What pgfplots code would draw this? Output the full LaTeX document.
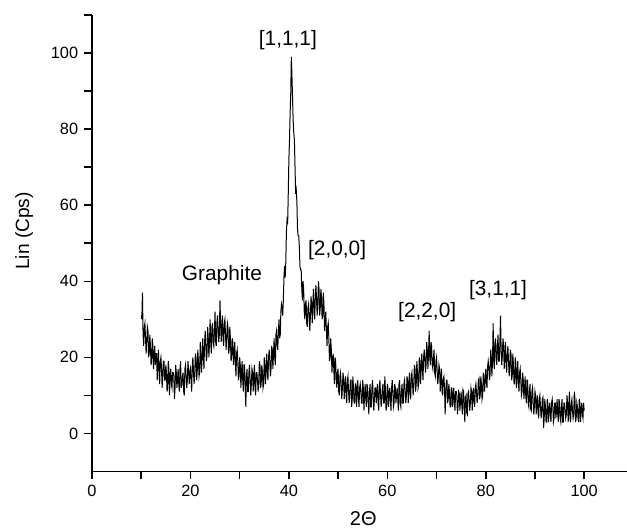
\documentclass[border=0pt]{standalone}
\usepackage{fontspec}
\setmainfont{Liberation Sans}
\usepackage{pgfplots}
\pgfplotsset{compat=1.18}

\begin{document}
\begin{tikzpicture}
\begin{axis}[
    name=ax,
    scale only axis,
    width=321pt, height=273.9pt,
    xmin=0, xmax=108.7, ymin=-10, ymax=110,
    axis lines=left,
    axis line style={-, line width=1pt},
    tick align=outside,
    xtick={0,20,...,100}, minor xtick={10,30,...,90},
    ytick={0,20,...,100}, minor ytick={10,30,...,110},
    major tick length=4.8pt, minor tick length=4.8pt,
    every tick/.style={black, line width=0.9pt},
    tick label style={font=\fontsize{9.8}{11}\selectfont},
    /pgf/number format/assume math mode=true,
    xlabel={2Θ},
    ylabel={Lin (Cps)},
    every axis x label/.style={at={(axis description cs:0.507,-0.1025)}, anchor=center, font=\fontsize{12}{14}\selectfont},
    every axis y label/.style={at={(axis description cs:-0.127,0.527)}, anchor=center, rotate=90, font=\fontsize{11.5}{14}\selectfont},
    clip=false,
]
\addplot[black, line width=0.6pt] coordinates {
(10.000,31) (10.125,30) (10.250,37) (10.375,26) (10.500,23) (10.625,28) (10.750,29) (10.875,25)
(11.000,21) (11.125,24) (11.250,28) (11.375,27) (11.500,20) (11.625,21) (11.750,26) (11.875,23)
(12.000,18) (12.125,19) (12.250,25) (12.375,23) (12.500,17) (12.625,20) (12.750,23) (12.875,18)
(13.000,21) (13.125,21) (13.250,14) (13.375,19) (13.500,22) (13.625,16) (13.750,13) (13.875,19)
(14.000,20) (14.125,17) (14.250,12) (14.375,15) (14.500,19) (14.625,19) (14.750,14) (14.875,14)
(15.000,18) (15.125,16) (15.250,11) (15.375,12) (15.500,19) (15.625,17) (15.750,10) (15.875,15)
(16.000,17) (16.125,13) (16.250,12) (16.375,16) (16.500,16) (16.625,15) (16.750,9) (16.875,12)
(17.000,18) (17.125,16) (17.250,12) (17.375,14) (17.500,17) (17.625,13) (17.750,11) (17.875,17)
(18.000,19) (18.125,12) (18.250,13) (18.375,15) (18.500,16) (18.625,11) (18.750,10) (18.875,17)
(19.000,18) (19.125,15) (19.250,12) (19.375,14) (19.500,19) (19.625,17) (19.750,13) (19.875,16)
(20.000,17) (20.125,14) (20.250,11) (20.375,18) (20.500,20) (20.625,16) (20.750,13) (20.875,16)
(21.000,21) (21.125,20) (21.250,14) (21.375,16) (21.500,22) (21.625,19) (21.750,15) (21.875,16)
(22.000,24) (22.125,21) (22.250,16) (22.375,20) (22.500,25) (22.625,20) (22.750,17) (22.875,24)
(23.000,27) (23.125,23) (23.250,19) (23.375,21) (23.500,28) (23.625,25) (23.750,20) (23.875,24)
(24.000,30) (24.125,24) (24.250,21) (24.375,28) (24.500,29) (24.625,24) (24.750,23) (24.875,27)
(25.000,32) (25.125,24) (25.250,23) (25.375,29) (25.500,31) (25.625,27) (25.750,24) (25.875,26)
(26.000,35) (26.125,29) (26.250,24) (26.375,28) (26.500,31) (26.625,25) (26.750,23) (26.875,29)
(27.000,30) (27.125,26) (27.250,22) (27.375,25) (27.500,29) (27.625,28) (27.750,21) (27.875,22)
(28.000,28) (28.125,25) (28.250,19) (28.375,20) (28.500,25) (28.625,24) (28.750,18) (28.875,20)
(29.000,24) (29.125,19) (29.250,15) (29.375,21) (29.500,22) (29.625,19) (29.750,14) (29.875,15)
(30.000,20) (30.125,18) (30.250,12) (30.375,16) (30.500,19) (30.625,14) (30.750,11) (30.875,18)
(31.000,18) (31.125,12) (31.250,7) (31.375,15) (31.500,17) (31.625,11) (31.750,11) (31.875,16)
(32.000,18) (32.125,14) (32.250,10) (32.375,13) (32.500,17) (32.625,16) (32.750,11) (32.875,15)
(33.000,18) (33.125,12) (33.250,10) (33.375,16) (33.500,16) (33.625,14) (33.750,11) (33.875,13)
(34.000,19) (34.125,18) (34.250,12) (34.375,13) (34.500,18) (34.625,16) (34.750,12) (34.875,13)
(35.000,20) (35.125,18) (35.250,13) (35.375,17) (35.500,21) (35.625,16) (35.750,14) (35.875,20)
(36.000,22) (36.125,19) (36.250,15) (36.375,17) (36.500,23) (36.625,22) (36.750,17) (36.875,21)
(37.000,25) (37.125,20) (37.250,18) (37.375,26) (37.500,27) (37.625,23) (37.750,22) (37.875,27)
(38.000,30) (38.125,25) (38.250,26) (38.375,32) (38.500,34) (38.625,33) (38.750,31) (38.875,35)
(39.000,41) (39.125,44) (39.250,41) (39.375,45) (39.500,53) (39.625,56) (39.750,55) (39.875,63)
(40.000,72) (40.125,77) (40.250,84) (40.375,89) (40.500,99) (40.625,94) (40.750,88) (40.875,82)
(41.000,79) (41.125,77) (41.250,70) (41.375,63) (41.500,64) (41.625,61) (41.750,54) (41.875,52)
(42.000,52) (42.125,49) (42.250,44) (42.375,43) (42.500,43) (42.625,38) (42.750,35) (42.875,40)
(43.000,38) (43.125,32) (43.250,30) (43.375,34) (43.500,35) (43.625,29) (43.750,28) (43.875,33)
(44.000,34) (44.125,31) (44.250,27) (44.375,31) (44.500,36) (44.625,34) (44.750,29) (44.875,34)
(45.000,38) (45.125,32) (45.250,30) (45.375,36) (45.500,39) (45.625,35) (45.750,31) (45.875,34)
(46.000,40) (46.125,38) (46.250,31) (46.375,33) (46.500,38) (46.625,36) (46.750,30) (46.875,31)
(47.000,37) (47.125,34) (47.250,27) (47.375,30) (47.500,32) (47.625,27) (47.750,23) (47.875,28)
(48.000,29) (48.125,25) (48.250,19) (48.375,20) (48.500,25) (48.625,22) (48.750,16) (48.875,19)
(49.000,21) (49.125,17) (49.250,13) (49.375,20) (49.500,19) (49.625,14) (49.750,12) (49.875,16)
(50.000,17) (50.125,11) (50.250,10) (50.375,15) (50.500,16) (50.625,13) (50.750,9) (50.875,12)
(51.000,16) (51.125,14) (51.250,9) (51.375,13) (51.500,15) (51.625,10) (51.750,8) (51.875,14)
(52.000,15) (52.125,11) (52.250,8) (52.375,10) (52.500,14) (52.625,14) (52.750,7) (52.875,9)
(53.000,15) (53.125,12) (53.250,8) (53.375,8) (53.500,13) (53.625,13) (53.750,7) (53.875,11)
(54.000,14) (54.125,9.5) (54.250,7) (54.375,12) (54.500,13) (54.625,11) (54.750,8) (54.875,8)
(55.000,14) (55.125,12) (55.250,6) (55.375,10) (55.500,13) (55.625,9) (55.750,7) (55.875,13)
(56.000,12) (56.125,8) (56.250,5) (56.375,11) (56.500,13) (56.625,7) (56.750,7) (56.875,12)
(57.000,14) (57.125,10) (57.250,6) (57.375,9) (57.500,12) (57.625,12) (57.750,8) (57.875,11)
(58.000,13) (58.125,8) (58.250,6) (58.375,12) (58.500,14) (58.625,10) (58.750,7) (58.875,9)
(59.000,12) (59.125,13) (59.250,8) (59.375,8) (59.500,15) (59.625,11) (59.750,6) (59.875,7)
(60.000,13) (60.125,12) (60.250,7) (60.375,10) (60.500,12) (60.625,9) (60.750,6) (60.875,12)
(61.000,14) (61.125,11) (61.250,7) (61.375,8) (61.500,13) (61.625,12) (61.750,8) (61.875,10)
(62.000,12) (62.125,9) (62.250,6) (62.375,13) (62.500,14) (62.625,8) (62.750,7) (62.875,11)
(63.000,13) (63.125,8) (63.250,8) (63.375,13) (63.500,14) (63.625,11) (63.750,8) (63.875,10)
(64.000,15) (64.125,14) (64.250,8) (64.375,13) (64.500,16) (64.625,10) (64.750,9) (64.875,15)
(65.000,16) (65.125,13) (65.250,10) (65.375,13) (65.500,18) (65.625,17) (65.750,11) (65.875,13)
(66.000,19) (66.125,16) (66.250,12) (66.375,13) (66.500,20) (66.625,19) (66.750,13) (66.875,17)
(67.000,21) (67.125,17) (67.250,14) (67.375,20) (67.500,22) (67.625,20) (67.750,16) (67.875,18)
(68.000,24) (68.125,22) (68.250,17) (68.375,21) (68.500,27) (68.625,20) (68.750,18) (68.875,24)
(69.000,23) (69.125,18) (69.250,17) (69.375,20) (69.500,22) (69.625,16) (69.750,15) (69.875,19)
(70.000,20) (70.125,16.5) (70.250,13) (70.375,15) (70.500,18) (70.625,17) (70.750,11) (70.875,15)
(71.000,17) (71.125,11) (71.250,10) (71.375,14.5) (71.500,15) (71.625,12) (71.750,5) (71.875,10)
(72.000,14) (72.125,14) (72.250,8) (72.375,9) (72.500,13) (72.625,11) (72.750,7) (72.875,7)
(73.000,12) (73.125,12) (73.250,7) (73.375,9.5) (73.500,12) (73.625,8) (73.750,6) (73.875,11)
(74.000,11) (74.125,10) (74.250,5) (74.375,7) (74.500,11) (74.625,10.5) (74.750,6) (74.875,8.5)
(75.000,11) (75.125,7.5) (75.250,5) (75.375,11.5) (75.500,11) (75.625,6.5) (75.750,3) (75.875,9.5)
(76.000,10) (76.125,5.5) (76.250,5) (76.375,10.5) (76.500,11) (76.625,8.5) (76.750,6) (76.875,8)
(77.000,12) (77.125,11) (77.250,6) (77.375,10.5) (77.500,12) (77.625,8) (77.750,7) (77.875,12)
(78.000,13) (78.125,10.5) (78.250,8) (78.375,10) (78.500,14) (78.625,14.5) (78.750,9) (78.875,10)
(79.000,15) (79.125,13) (79.250,9) (79.375,10) (79.500,16) (79.625,15) (79.750,11) (79.875,13.7)
(80.000,17) (80.125,13.5) (80.250,12) (80.375,17.5) (80.500,19) (80.625,17.5) (80.750,14) (80.875,15.5)
(81.000,22) (81.125,20) (81.250,15) (81.375,19) (81.500,29) (81.625,19) (81.750,17) (81.875,24)
(82.000,25) (82.125,20) (82.250,18) (82.375,23) (82.500,26) (82.625,19) (82.750,19) (82.875,24)
(83.000,31) (83.125,22) (83.250,18) (83.375,20.5) (83.500,25) (83.625,23) (83.750,17) (83.875,21)
(84.000,24) (84.125,18) (84.250,16) (84.375,21) (84.500,23) (84.625,19) (84.750,15) (84.875,17)
(85.000,22) (85.125,21) (85.250,14) (85.375,15) (85.500,21) (85.625,18) (85.750,13) (85.875,13)
(86.000,20) (86.125,18) (86.250,12) (86.375,15) (86.500,19) (86.625,13.5) (86.750,11) (86.875,16)
(87.000,17) (87.125,14) (87.250,10) (87.375,11) (87.500,16) (87.625,14) (87.750,9) (87.875,11.7)
(88.000,15) (88.125,10) (88.250,8) (88.375,14) (88.500,14) (88.625,8) (88.750,7) (88.875,11)
(89.000,13) (89.125,6.5) (89.250,6) (89.375,11) (89.500,12) (89.625,8.5) (89.750,5) (89.875,7)
(90.000,11) (90.125,10) (90.250,5) (90.375,8.5) (90.500,10) (90.625,5.5) (90.750,4) (90.875,9)
(91.000,10) (91.125,7) (91.250,4) (91.375,5.5) (91.500,9) (91.625,9.5) (91.750,1.5) (91.875,4)
(92.000,9) (92.125,7) (92.250,3) (92.375,3) (92.500,9) (92.625,8) (92.750,3) (92.875,6)
(93.000,8) (93.125,5) (93.250,3) (93.375,8) (93.500,9) (93.625,7) (93.750,3) (93.875,4)
(94.000,8) (94.125,8) (94.250,4) (94.375,6) (94.500,9) (94.625,5) (94.750,3) (94.875,9)
(95.000,8) (95.125,4) (95.250,3) (95.375,7) (95.500,9) (95.625,3) (95.750,3) (95.875,8)
(96.000,8) (96.125,6) (96.250,4) (96.375,5) (96.500,10) (96.625,8) (96.750,3) (96.875,7)
(97.000,11) (97.125,4) (97.250,3) (97.375,8) (97.500,9) (97.625,6) (97.750,4) (97.875,5)
(98.000,11) (98.125,9) (98.250,3) (98.375,4) (98.500,8) (98.625,7) (98.750,4) (98.875,3)
(99.000,9) (99.125,8) (99.250,3) (99.375,6) (99.500,8) (99.625,5) (99.750,4) (99.875,8)
(100.000,6)
};
\node[font=\fontsize{12.5}{14}\selectfont] at (axis cs:39.8,103.4) {[1,1,1]};
\node[font=\fontsize{12.5}{14}\selectfont] at (axis cs:49.8,48.2) {[2,0,0]};
\node[font=\fontsize{12.5}{14}\selectfont] at (axis cs:26.4,41.6) {Graphite};
\node[font=\fontsize{12.5}{14}\selectfont] at (axis cs:68.1,31.8) {[2,2,0]};
\node[font=\fontsize{12.5}{14}\selectfont] at (axis cs:82.5,37.6) {[3,1,1]};
\end{axis}
\pgfresetboundingbox
\path ([xshift=-55.2pt,yshift=-33.9pt]ax.south west) rectangle ([yshift=9pt]ax.north east);
\end{tikzpicture}
\end{document}
